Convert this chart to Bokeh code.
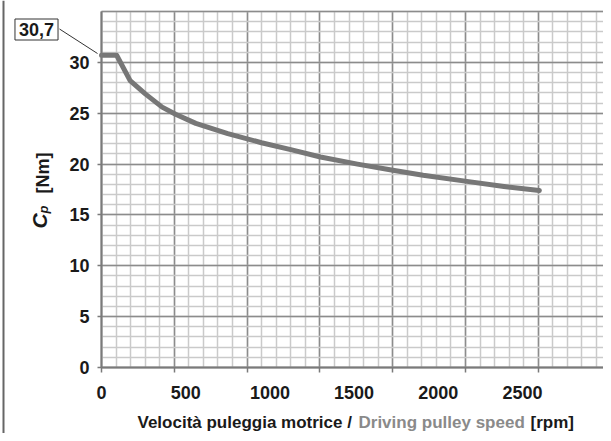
import math
from bokeh.plotting import figure
from bokeh.models import (Range1d, FixedTicker, LinearAxis, Label, Arrow, Span,
                          CustomJSTickFormatter)
from bokeh.embed import file_html
from bokeh.resources import INLINE

# ---- data ----
speed_rpm = [0, 90, 170, 260, 360, 440, 560, 750, 950, 1130, 1300, 1520, 1730, 1910, 2170, 2390, 2600]
torque_nm = [30.7, 30.7, 28.2, 26.9, 25.6, 24.9, 24.0, 23.0, 22.1, 21.4, 20.7, 20.0, 19.4, 18.9, 18.3, 17.8, 17.4]
x_tick_values = [0, 500, 1000, 1500, 2000, 2500]
y_tick_values = [0, 5, 10, 15, 20, 25, 30]
peak_label = "30,7"
title_black = "Velocità puleggia motrice / "
title_gray = "Driving pulley speed"
title_unit = "[rpm]"

# ---- layout constants (pixels) ----
W, H = 603, 433
X0_PX, Y0_PX = 101, 367      # pixel position of the (0, 0) corner of the chart
PX_X = 421 / 2500            # pixels per rpm
PX_Y = 357 / 35.1            # pixels per Nm
CELL_PX = 14.56              # squared-paper cell
Y_TOP = 35
FONT = "Liberation Sans"


def dx(px):
    return (px - X0_PX) / PX_X


def dy(py):
    return (Y0_PX - py) / PX_Y


x_start, x_end = dx(0), dx(W)
y_start, y_end = dy(H), dy(0)

p = figure(width=W, height=H, output_backend="svg", toolbar_location=None,
           x_range=Range1d(x_start, x_end), y_range=Range1d(y_start, y_end),
           min_border=0, min_border_left=0, min_border_right=0,
           min_border_top=0, min_border_bottom=0)
p.background_fill_color = "white"
p.border_fill_color = "white"
p.outline_line_color = None

# ---- squared-paper grid ----
cell = CELL_PX / PX_X
n_cells = int((W - X0_PX) / CELL_PX)
x_minor = [k * cell for k in range(n_cells + 1)]
x_major = [k * cell for k in range(0, n_cells + 1, 5)]
p.xgrid.ticker = FixedTicker(ticks=x_major, minor_ticks=x_minor)
p.xgrid.cross_bounds = (0, Y_TOP)
p.xgrid.grid_line_color = "#8c8c8c"
p.xgrid.grid_line_width = 1.5
p.xgrid.minor_grid_line_color = "#cacaca"
p.xgrid.minor_grid_line_width = 1.5

y_major = list(range(0, Y_TOP + 1, 5))
y_minor = list(range(0, Y_TOP + 1))
p.ygrid.ticker = FixedTicker(ticks=y_major, minor_ticks=y_minor)
p.ygrid.cross_bounds = (0, x_end)
p.ygrid.grid_line_color = "#8c8c8c"
p.ygrid.grid_line_width = 1.5
p.ygrid.minor_grid_line_color = "#cacaca"
p.ygrid.minor_grid_line_width = 1.5

# ---- x axis: line + tick marks at the grid majors ----
ax1 = p.xaxis[0]
ax1.fixed_location = 0
ax1.bounds = (0, x_end)
ax1.ticker = FixedTicker(ticks=x_major)
ax1.formatter = CustomJSTickFormatter(code="return ''")
ax1.axis_line_color = "#7a7a7a"
ax1.axis_line_width = 2
ax1.major_tick_line_color = "#7a7a7a"
ax1.major_tick_line_width = 1.5
ax1.major_tick_out = 5
ax1.major_tick_in = 0
ax1.minor_tick_line_color = None

# ---- x axis: the tick labels ----
ax2 = LinearAxis(ticker=FixedTicker(ticks=x_tick_values), fixed_location=0)
ax2.axis_line_color = None
ax2.major_tick_line_color = None
ax2.minor_tick_line_color = None
ax2.major_label_text_font = FONT
ax2.major_label_text_font_style = "bold"
ax2.major_label_text_font_size = "18px"
ax2.major_label_text_color = "#1a1a1a"
ax2.major_label_standoff = 12
p.add_layout(ax2, "below")

# ---- y axis ----
ya = p.yaxis[0]
ya.fixed_location = 0
ya.bounds = (0, Y_TOP)
ya.ticker = FixedTicker(ticks=y_tick_values)
ya.axis_line_color = "#7a7a7a"
ya.axis_line_width = 2
ya.major_tick_line_color = "#7a7a7a"
ya.major_tick_line_width = 1.5
ya.major_tick_out = 4
ya.major_tick_in = 0
ya.minor_tick_line_color = None
ya.major_label_text_font = FONT
ya.major_label_text_font_style = "bold"
ya.major_label_text_font_size = "18px"
ya.major_label_text_color = "#1a1a1a"
ya.major_label_standoff = 8

# ---- curve ----
p.line(speed_rpm, torque_nm, line_width=5, line_color="#777777", line_join="round", line_cap="round")

# ---- peak value box with leader line ----
p.add_layout(Arrow(x_start=dx(59), y_start=dy(28.5), x_end=dx(97), y_end=dy(53),
                   end=None, start=None, line_color="#333333", line_width=1))
p.add_layout(Label(x=dx(36), y=dy(29), text=peak_label, text_align="center", text_baseline="middle",
                   text_font=FONT, text_font_style="bold", text_font_size="18px", text_color="#1a1a1a",
                   padding=4, border_line_color="#333333", border_line_width=1,
                   background_fill_color="white"))

# ---- y axis title: C_p [Nm] ----
p.add_layout(Label(x=dx(39), y=dy(228), text="C", angle=math.pi / 2, text_align="left",
                   text_baseline="alphabetic", text_font=FONT, text_font_style="bold italic",
                   text_font_size="21px", text_color="#1a1a1a"))
p.add_layout(Label(x=dx(42.5), y=dy(213), text="p", angle=math.pi / 2, text_align="left",
                   text_baseline="alphabetic", text_font=FONT, text_font_style="bold italic",
                   text_font_size="13px", text_color="#1a1a1a"))
p.add_layout(Label(x=dx(42), y=dy(193), text="[Nm]", angle=math.pi / 2, text_align="left",
                   text_baseline="alphabetic", text_font=FONT, text_font_style="bold",
                   text_font_size="18px", text_color="#1a1a1a"))

# ---- x axis title in three colours ----
for txt, px, col in [(title_black, 137, "#1a1a1a"), (title_gray, 358, "#8a8a8a"),
                     (title_unit, 530, "#1a1a1a")]:
    p.add_layout(Label(x=dx(px), y=dy(422), text=txt, text_align="left", text_baseline="middle",
                       text_font=FONT, text_font_style="bold", text_font_size="17px",
                       text_color=col))

# ---- left border line of the picture ----
p.add_layout(Span(location=dx(3), dimension="height", line_color="#666666", line_width=2))

open("out.html", "w").write(file_html(p, INLINE))
